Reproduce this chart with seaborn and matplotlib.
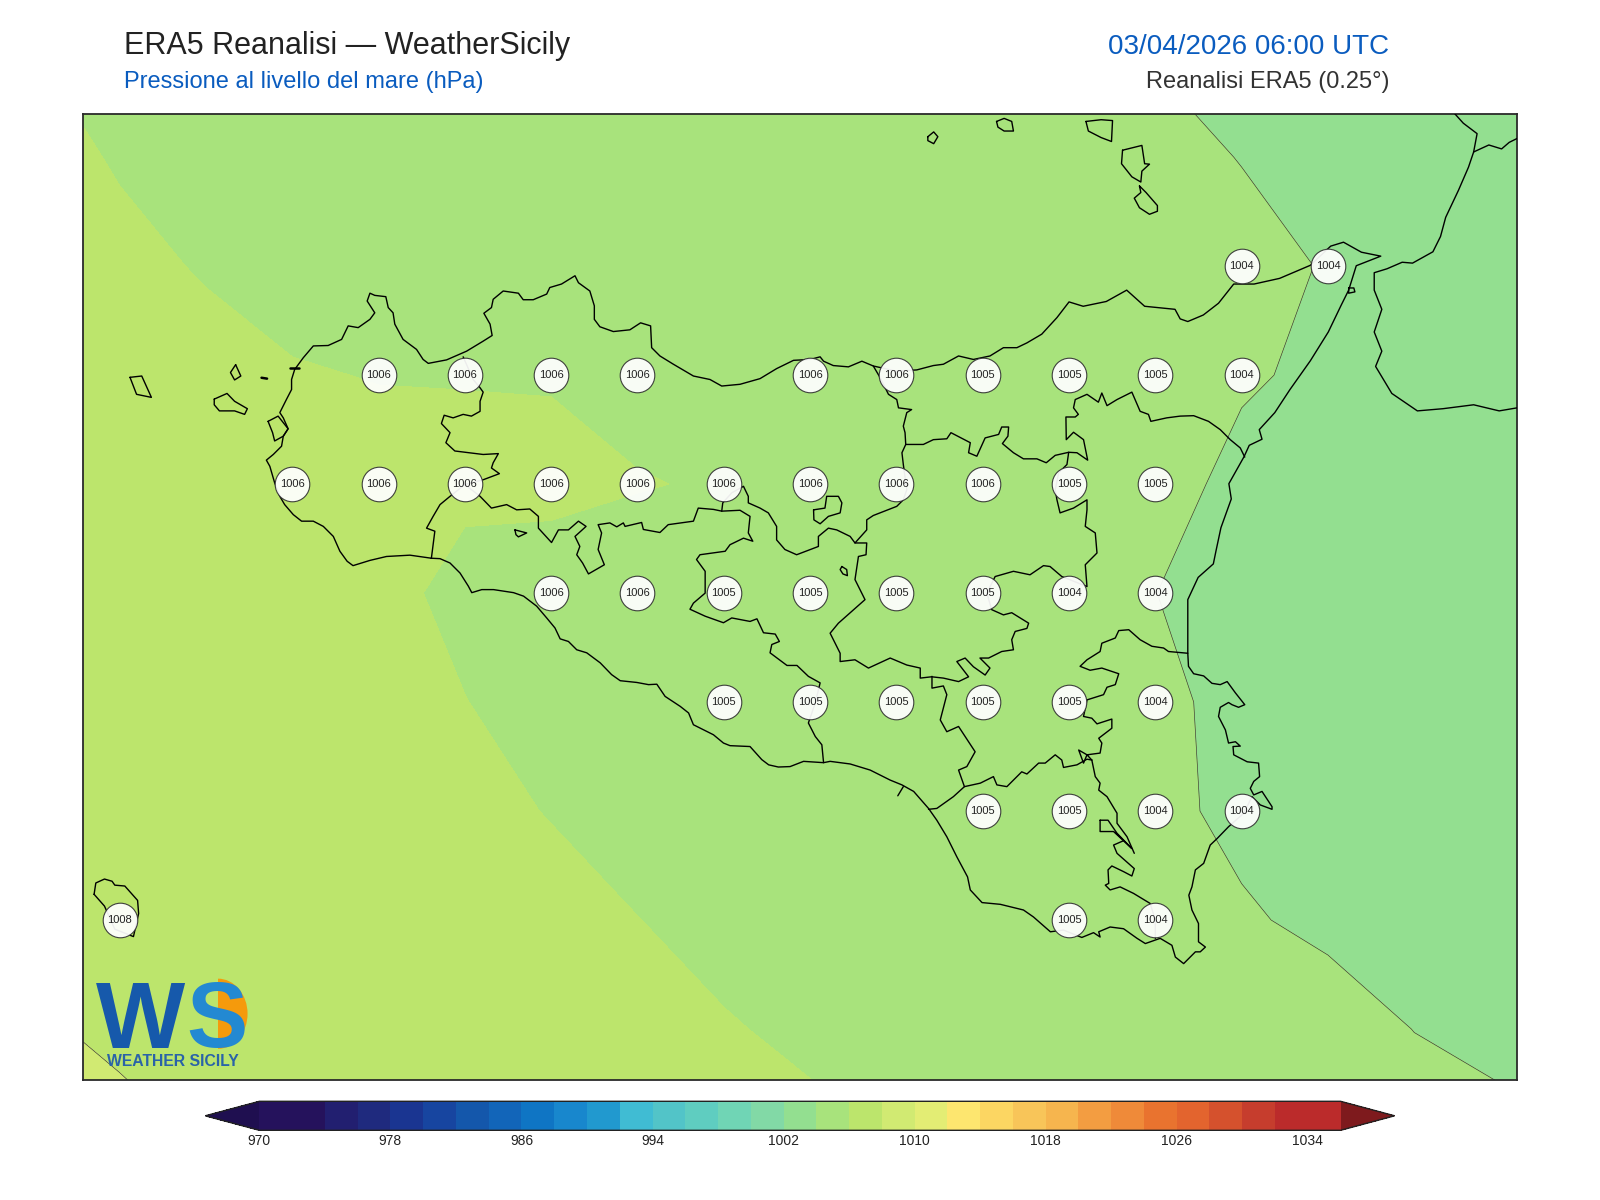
"""ERA5 sea level pressure over Sicily, WeatherSicily style map."""
import matplotlib
matplotlib.use("Agg")
import matplotlib.pyplot as plt
from matplotlib.colors import BoundaryNorm, ListedColormap
from matplotlib.patches import Ellipse, Rectangle
import numpy as np
import seaborn as sns

sns.set_theme(style="white")
plt.rcParams["font.family"] = ["Liberation Sans", "DejaVu Sans"]

# %% pressure field (hPa) on the 0.25 degree grid
grid_lon = np.arange(11.75, 16.26, 0.25)
grid_lat = [38.75, 38.5, 38.25, 38.0, 37.75, 37.5, 37.25, 37.0, 36.75, 36.5, 36.25]
slp_3875 = [1006.0, 1005.7, 1005.4, 1005.2, 1005.1, 1005.0, 1004.9, 1004.8, 1004.7, 1004.6, 1004.5, 1004.3, 1004.1, 1003.95, 1003.7, 1003.5, 1003.3, 1003.1, 1003.0]
slp_3850 = [1006.2, 1005.95, 1005.7, 1005.5, 1005.4, 1005.3, 1005.2, 1005.1, 1005.0, 1004.9, 1004.8, 1004.6, 1004.4, 1004.2, 1003.98, 1003.7, 1003.5, 1003.3, 1003.2]
slp_3825 = [1006.5, 1006.14, 1005.956, 1005.7, 1005.6, 1005.55, 1005.5, 1005.35, 1005.2, 1005.1, 1005.0, 1004.8, 1004.6, 1004.4, 1004.2, 1003.96, 1003.6, 1003.4, 1003.2]
slp_3800 = [1007.0, 1006.6, 1006.18, 1006.06, 1005.97, 1005.96, 1005.95, 1005.75, 1005.7, 1005.6, 1005.5, 1005.4, 1005.2, 1005.0, 1004.3, 1003.5, 1003.3, 1003.2, 1003.1]
slp_3775 = [1007.3, 1007.0, 1006.7, 1006.4, 1006.3, 1006.25, 1006.2, 1006.04, 1005.93, 1005.85, 1005.7, 1005.55, 1005.4, 1005.0, 1003.3, 1003.1, 1003.1, 1003.1, 1003.0]
slp_3750 = [1007.9, 1007.6, 1007.2, 1006.8, 1006.42, 1005.61, 1005.6, 1005.55, 1005.4, 1005.2, 1005.1, 1004.8, 1004.4, 1004.02, 1003.1, 1003.0, 1003.0, 1003.0, 1003.0]
slp_3725 = [1007.95, 1007.8, 1007.5, 1007.2, 1006.7, 1006.03, 1005.4, 1005.3, 1005.2, 1005.1, 1005.0, 1004.9, 1004.7, 1004.4, 1003.5, 1003.1, 1003.1, 1003.1, 1003.0]
slp_3700 = [1007.96, 1007.85, 1007.7, 1007.5, 1007.1, 1006.5, 1005.92, 1005.5, 1005.3, 1005.2, 1005.1, 1005.0, 1004.8, 1004.3, 1003.72, 1003.1, 1003.1, 1003.1, 1003.1]
slp_3675 = [1007.9, 1007.8, 1007.7, 1007.5, 1007.3, 1007.0, 1006.6, 1006.02, 1005.6, 1005.4, 1005.3, 1005.2, 1005.0, 1004.4, 1004.14, 1003.73, 1003.4, 1003.2, 1003.1]
slp_3650 = [1008.04, 1007.94, 1007.85, 1007.7, 1007.5, 1007.2, 1006.9, 1006.5, 1006.1, 1005.75, 1005.5, 1005.35, 1005.2, 1005.0, 1004.8, 1004.57, 1003.98, 1003.6, 1003.4]
slp_3625 = [1008.3, 1008.09, 1007.98, 1007.9, 1007.8, 1007.6, 1007.3, 1007.0, 1006.6, 1006.3, 1005.9, 1005.7, 1005.5, 1005.3, 1005.1, 1004.9, 1004.6, 1004.4, 1004.05]
slp = np.array([slp_3875, slp_3850, slp_3825, slp_3800, slp_3775, slp_3750, slp_3725, slp_3700, slp_3675, slp_3650, slp_3625])

# %% value labels at grid points
station_lon = [15.25, 15.5,
               12.75, 13.0, 13.25, 13.5, 14.0, 14.25, 14.5, 14.75, 15.0, 15.25,
               12.5, 12.75, 13.0, 13.25, 13.5, 13.75, 14.0, 14.25, 14.5, 14.75, 15.0,
               13.25, 13.5, 13.75, 14.0, 14.25, 14.5, 14.75, 15.0,
               13.75, 14.0, 14.25, 14.5, 14.75, 15.0,
               14.5, 14.75, 15.0, 15.25,
               12.0, 14.75, 15.0]
station_lat = [38.25, 38.25,
               38.0, 38.0, 38.0, 38.0, 38.0, 38.0, 38.0, 38.0, 38.0, 38.0,
               37.75, 37.75, 37.75, 37.75, 37.75, 37.75, 37.75, 37.75, 37.75, 37.75, 37.75,
               37.5, 37.5, 37.5, 37.5, 37.5, 37.5, 37.5, 37.5,
               37.25, 37.25, 37.25, 37.25, 37.25, 37.25,
               37.0, 37.0, 37.0, 37.0,
               36.75, 36.75, 36.75]
station_label = [1004, 1004,
                 1006, 1006, 1006, 1006, 1006, 1006, 1005, 1005, 1005, 1004,
                 1006, 1006, 1006, 1006, 1006, 1006, 1006, 1006, 1006, 1005, 1005,
                 1006, 1006, 1005, 1005, 1005, 1005, 1004, 1004,
                 1005, 1005, 1005, 1005, 1005, 1004,
                 1005, 1005, 1004, 1004,
                 1008, 1005, 1004]

# %% colour scale
levels = np.arange(970, 1037, 2)
tick_values = [970, 978, 986, 994, 1002, 1010, 1018, 1026, 1034]
scale_colors = [
    "#25125c", "#25125c", "#221f70", "#1f2a7e", "#1a3591", "#1745a0", "#1457ab", "#1265b9",
    "#0f75c4", "#1887cd", "#2199cf", "#40bcd3", "#52c4c8", "#5fcdc0", "#70d5b5", "#82d9a6",
    "#93df90", "#a8e37c", "#bce56c", "#d1ea72", "#e3ed74", "#fde66f", "#fcd662", "#f8c559",
    "#f6b54e", "#f39d41", "#ef8a39", "#e9732f", "#e3642e", "#d5512d", "#c63d2d", "#bb2b2b",
    "#bb2b2b",
]
under_color = "#1f0f50"
over_color = "#7e1a1d"

# %% base map, lon/lat
sicily_coast = [
    (12.903, 37.580), (12.841, 37.587), (12.773, 37.584), (12.725, 37.575), (12.676, 37.563), (12.659, 37.573),
    (12.638, 37.596), (12.619, 37.630), (12.590, 37.653), (12.561, 37.665), (12.527, 37.665), (12.503, 37.680),
    (12.478, 37.703), (12.464, 37.722), (12.449, 37.753), (12.435, 37.791), (12.425, 37.805), (12.445, 37.818),
    (12.469, 37.837), (12.474, 37.860), (12.488, 37.877), (12.474, 37.902), (12.464, 37.914), (12.483, 37.944),
    (12.498, 37.967), (12.498, 37.990), (12.507, 38.013), (12.532, 38.040), (12.561, 38.067), (12.604, 38.068),
    (12.643, 38.082), (12.662, 38.113), (12.691, 38.109), (12.725, 38.128), (12.739, 38.143), (12.717, 38.170),
    (12.725, 38.188), (12.739, 38.183), (12.771, 38.180), (12.778, 38.155), (12.792, 38.143), (12.797, 38.117),
    (12.821, 38.082), (12.860, 38.059), (12.879, 38.036), (12.894, 38.027), (12.947, 38.035), (13.005, 38.055),
    (13.053, 38.078), (13.079, 38.091), (13.073, 38.117), (13.055, 38.142), (13.077, 38.155), (13.082, 38.174),
    (13.111, 38.193), (13.155, 38.188), (13.169, 38.173), (13.198, 38.173), (13.237, 38.186), (13.246, 38.201),
    (13.280, 38.209), (13.319, 38.228), (13.329, 38.212), (13.362, 38.193), (13.375, 38.159), (13.375, 38.128),
    (13.391, 38.111), (13.430, 38.100), (13.478, 38.104), (13.509, 38.120), (13.538, 38.113), (13.541, 38.063),
    (13.565, 38.044), (13.604, 38.025), (13.662, 37.998), (13.710, 37.990), (13.744, 37.975), (13.797, 37.979),
    (13.855, 37.992), (13.903, 38.015), (13.952, 38.034), (14.000, 38.036), (14.029, 38.042), (14.039, 38.032),
    (14.067, 38.022), (14.111, 38.019), (14.150, 38.032), (14.183, 38.021), (14.251, 38.009), (14.309, 38.012),
    (14.357, 38.022), (14.386, 38.025), (14.430, 38.044), (14.473, 38.036), (14.521, 38.044), (14.560, 38.063),
    (14.599, 38.063), (14.628, 38.074), (14.671, 38.094), (14.715, 38.132), (14.750, 38.168), (14.791, 38.158),
    (14.858, 38.169), (14.917, 38.195), (14.969, 38.158), (15.057, 38.151), (15.072, 38.129), (15.094, 38.123),
    (15.139, 38.138), (15.183, 38.165), (15.227, 38.209), (15.286, 38.209), (15.360, 38.222), (15.449, 38.252),
    (15.508, 38.296), (15.545, 38.305), (15.597, 38.282), (15.653, 38.273), (15.582, 38.251), (15.560, 38.195),
    (15.538, 38.160), (15.501, 38.099), (15.449, 38.033), (15.390, 37.967), (15.346, 37.914), (15.301, 37.875),
    (15.309, 37.853), (15.272, 37.839), (15.257, 37.813), (15.213, 37.751), (15.220, 37.716), (15.190, 37.650),
    (15.176, 37.598), (15.168, 37.567), (15.124, 37.536), (15.094, 37.485), (15.094, 37.362), (15.096, 37.332),
    (15.111, 37.315), (15.140, 37.310), (15.164, 37.293), (15.188, 37.290), (15.208, 37.297), (15.232, 37.271),
    (15.259, 37.244), (15.241, 37.238), (15.222, 37.244), (15.212, 37.249), (15.188, 37.238), (15.183, 37.217),
    (15.203, 37.186), (15.212, 37.156), (15.232, 37.159), (15.246, 37.149), (15.225, 37.148), (15.227, 37.129),
    (15.266, 37.113), (15.299, 37.110), (15.302, 37.079), (15.285, 37.068), (15.275, 37.052), (15.285, 37.037),
    (15.309, 37.045), (15.338, 37.010), (15.338, 37.004), (15.304, 37.014), (15.280, 37.033), (15.256, 36.995),
    (15.212, 36.964), (15.179, 36.937), (15.159, 36.922), (15.140, 36.880), (15.116, 36.865), (15.106, 36.826),
    (15.097, 36.807), (15.106, 36.773), (15.125, 36.742), (15.125, 36.700), (15.145, 36.688), (15.130, 36.677),
    (15.116, 36.677), (15.082, 36.650), (15.058, 36.665), (15.048, 36.692), (15.014, 36.708), (14.971, 36.696),
    (14.947, 36.708), (14.908, 36.730), (14.869, 36.734), (14.836, 36.723), (14.840, 36.711), (14.821, 36.721),
    (14.787, 36.710), (14.734, 36.727), (14.696, 36.723), (14.647, 36.757), (14.618, 36.773), (14.551, 36.786),
    (14.498, 36.790), (14.464, 36.819), (14.456, 36.849), (14.425, 36.895), (14.396, 36.941), (14.367, 36.979),
    (14.343, 37.006), (14.300, 37.045), (14.266, 37.060), (14.232, 37.071), (14.174, 37.094), (14.116, 37.108),
    (14.058, 37.114), (14.039, 37.111), (13.981, 37.114), (13.942, 37.102), (13.908, 37.101), (13.880, 37.106),
    (13.860, 37.118), (13.826, 37.148), (13.768, 37.150), (13.749, 37.156), (13.720, 37.175), (13.662, 37.198),
    (13.648, 37.225), (13.624, 37.240), (13.580, 37.263), (13.556, 37.291), (13.532, 37.290), (13.498, 37.295),
    (13.450, 37.299), (13.425, 37.313), (13.392, 37.340), (13.353, 37.363), (13.324, 37.370), (13.300, 37.389),
    (13.276, 37.395), (13.261, 37.420), (13.237, 37.443), (13.208, 37.470), (13.170, 37.493), (13.141, 37.501),
    (13.083, 37.508), (13.049, 37.508), (13.020, 37.501), (13.010, 37.516), (12.986, 37.546), (12.957, 37.569),
    (12.928, 37.579), (12.903, 37.580),
]
calabria_coast = [
    (15.867, 38.600), (15.892, 38.578), (15.932, 38.554), (15.922, 38.512), (15.907, 38.477), (15.878, 38.424),
    (15.841, 38.362), (15.826, 38.318), (15.804, 38.283), (15.745, 38.257), (15.715, 38.259), (15.671, 38.244),
    (15.634, 38.235), (15.634, 38.195), (15.656, 38.151), (15.634, 38.099), (15.656, 38.055), (15.638, 38.020),
    (15.685, 37.958), (15.759, 37.918), (15.833, 37.923), (15.922, 37.932), (15.996, 37.918), (16.048, 37.925),
]
calabria_border = [(15.922, 38.512), (15.966, 38.528), (16.003, 38.519), (16.025, 38.534), (16.048, 38.543)]

border_tp_pa = [
    (12.995, 38.042), (13.024, 37.990), (13.044, 37.971), (13.053, 37.961), (13.044, 37.940), (13.044, 37.917),
    (13.019, 37.906), (12.995, 37.910), (12.966, 37.902), (12.940, 37.908), (12.932, 37.889), (12.957, 37.868),
    (12.945, 37.845), (12.971, 37.826), (13.053, 37.818), (13.097, 37.820), (13.082, 37.799), (13.077, 37.787),
    (13.100, 37.774), (13.053, 37.760), (13.000, 37.749),
]
border_tp_ag = [
    (13.000, 37.749), (12.957, 37.722), (12.928, 37.703), (12.908, 37.676), (12.889, 37.649), (12.913, 37.642),
    (12.903, 37.580),
]
border_pa_ag = [
    (13.000, 37.749), (13.044, 37.722), (13.077, 37.695), (13.121, 37.703), (13.150, 37.691), (13.188, 37.693),
    (13.213, 37.676), (13.213, 37.649), (13.251, 37.616), (13.271, 37.645), (13.300, 37.645), (13.329, 37.665),
    (13.351, 37.653), (13.319, 37.630), (13.333, 37.607), (13.324, 37.588), (13.341, 37.569), (13.358, 37.544),
    (13.404, 37.565), (13.386, 37.600), (13.396, 37.638), (13.386, 37.657), (13.420, 37.661), (13.440, 37.652),
    (13.459, 37.661), (13.464, 37.653), (13.512, 37.662), (13.517, 37.646), (13.565, 37.639), (13.589, 37.657),
    (13.662, 37.665), (13.676, 37.695), (13.720, 37.692), (13.744, 37.688), (13.797, 37.690), (13.826, 37.676),
    (13.821, 37.638), (13.834, 37.619), (13.807, 37.626), (13.768, 37.611), (13.754, 37.596), (13.681, 37.588),
    (13.671, 37.577), (13.696, 37.550), (13.696, 37.500), (13.662, 37.477), (13.652, 37.463), (13.696, 37.447),
    (13.749, 37.432), (13.773, 37.443), (13.826, 37.435), (13.846, 37.441), (13.865, 37.409), (13.899, 37.406),
    (13.911, 37.389), (13.889, 37.382), (13.884, 37.363), (13.933, 37.334), (13.962, 37.334), (13.995, 37.309),
    (14.029, 37.294), (14.015, 37.248), (13.995, 37.202), (14.015, 37.171), (14.034, 37.152), (14.039, 37.111),
]
border_pa_cl = [
    (13.744, 37.688), (13.747, 37.707), (13.773, 37.730), (13.807, 37.745), (13.821, 37.722), (13.821, 37.707),
    (13.855, 37.695), (13.879, 37.684), (13.903, 37.653), (13.903, 37.622), (13.927, 37.600), (13.961, 37.588),
    (14.024, 37.607), (14.024, 37.630), (14.053, 37.649), (14.077, 37.645), (14.116, 37.630), (14.130, 37.615),
    (14.164, 37.645), (14.164, 37.668), (14.183, 37.678), (14.251, 37.699), (14.270, 37.714), (14.280, 37.737),
    (14.270, 37.795), (14.266, 37.822), (14.277, 37.841), (14.275, 37.868), (14.270, 37.883), (14.280, 37.914),
    (14.294, 37.921), (14.256, 37.925), (14.251, 37.944), (14.227, 37.956), (14.203, 37.994), (14.183, 38.021),
]
border_me = [
    (14.277, 37.841), (14.328, 37.841), (14.357, 37.852), (14.396, 37.854), (14.408, 37.868), (14.464, 37.845),
    (14.459, 37.822), (14.483, 37.814), (14.507, 37.856), (14.546, 37.864), (14.555, 37.881), (14.575, 37.881),
    (14.573, 37.860), (14.557, 37.843), (14.589, 37.822), (14.618, 37.808), (14.657, 37.808), (14.684, 37.799),
    (14.710, 37.816), (14.749, 37.823), (14.773, 37.822), (14.804, 37.805), (14.792, 37.852), (14.763, 37.869),
    (14.742, 37.852), (14.741, 37.904), (14.768, 37.904), (14.777, 37.910), (14.763, 37.925), (14.768, 37.944),
    (14.802, 37.956), (14.835, 37.938), (14.845, 37.959), (14.860, 37.930), (14.889, 37.944), (14.932, 37.961),
    (14.956, 37.917), (14.980, 37.910), (14.987, 37.894), (15.033, 37.902), (15.072, 37.906), (15.111, 37.907),
    (15.154, 37.894), (15.188, 37.875), (15.217, 37.852), (15.246, 37.833), (15.259, 37.812),
]
border_en = [
    (14.749, 37.823), (14.744, 37.795), (14.720, 37.776), (14.710, 37.737), (14.715, 37.714), (14.724, 37.684),
    (14.763, 37.695), (14.802, 37.714), (14.802, 37.691), (14.797, 37.653), (14.826, 37.638), (14.831, 37.592),
    (14.797, 37.565), (14.802, 37.515), (14.729, 37.538), (14.695, 37.561), (14.676, 37.563), (14.637, 37.542),
    (14.589, 37.550), (14.536, 37.538), (14.512, 37.500), (14.526, 37.462), (14.560, 37.450), (14.584, 37.455),
    (14.633, 37.431), (14.628, 37.419), (14.594, 37.412), (14.584, 37.393), (14.589, 37.370), (14.555, 37.366),
    (14.517, 37.351), (14.492, 37.351), (14.521, 37.328), (14.507, 37.312), (14.473, 37.331), (14.449, 37.351),
    (14.425, 37.343), (14.459, 37.308), (14.430, 37.297), (14.386, 37.305), (14.352, 37.308), (14.319, 37.305),
    (14.319, 37.328), (14.280, 37.335), (14.232, 37.351), (14.169, 37.328), (14.130, 37.347), (14.087, 37.343),
    (14.087, 37.362), (14.058, 37.408), (14.082, 37.431), (14.159, 37.485), (14.130, 37.531), (14.140, 37.584),
    (14.162, 37.588), (14.164, 37.615), (14.130, 37.615),
]
border_cl_ct = [
    (14.353, 37.309), (14.353, 37.282), (14.386, 37.287), (14.396, 37.267), (14.377, 37.209), (14.396, 37.182),
    (14.430, 37.194), (14.478, 37.136), (14.454, 37.102), (14.430, 37.094), (14.447, 37.056), (14.415, 37.033),
    (14.367, 37.006), (14.343, 37.004),
]
border_ct_rg = [
    (14.447, 37.056), (14.493, 37.064), (14.531, 37.079), (14.541, 37.060), (14.570, 37.056), (14.613, 37.090),
    (14.628, 37.085), (14.662, 37.110), (14.681, 37.110), (14.710, 37.129), (14.729, 37.117), (14.734, 37.100),
    (14.773, 37.106), (14.802, 37.119), (14.816, 37.117),
]
border_rg_sr_north = [
    (14.816, 37.117), (14.826, 37.079), (14.840, 37.064), (14.836, 37.048), (14.860, 37.033), (14.889, 36.995),
    (14.889, 36.972), (14.918, 36.941), (14.939, 36.903),
]
border_rg_sr_south = [
    (14.908, 36.932), (14.879, 36.922), (14.889, 36.903), (14.939, 36.868), (14.932, 36.851), (14.908, 36.861),
    (14.874, 36.874), (14.863, 36.865), (14.865, 36.834), (14.855, 36.830), (14.869, 36.819), (14.898, 36.826),
    (14.937, 36.811), (14.985, 36.788), (15.000, 36.750), (15.000, 36.708),
]
border_ct_sr = [
    (14.816, 37.117), (14.802, 37.129), (14.792, 37.110), (14.778, 37.140), (14.802, 37.129), (14.840, 37.133),
    (14.845, 37.156), (14.836, 37.167), (14.874, 37.190), (14.874, 37.211), (14.831, 37.200), (14.816, 37.213),
    (14.792, 37.217), (14.802, 37.255), (14.850, 37.267), (14.860, 37.284), (14.884, 37.290), (14.894, 37.315),
    (14.845, 37.328), (14.811, 37.323), (14.782, 37.332), (14.802, 37.347), (14.840, 37.366), (14.845, 37.385),
    (14.884, 37.397), (14.894, 37.414), (14.923, 37.416), (14.956, 37.393), (14.990, 37.378), (15.024, 37.374),
    (15.038, 37.366), (15.094, 37.362),
]
coast_tick = [(14.270, 37.056), (14.254, 37.035)]

closed_shapes = {
    "stagnone": [(12.430, 37.894), (12.459, 37.906), (12.488, 37.877), (12.474, 37.860), (12.449, 37.849), (12.443, 37.868)],
    "lake_ragusa": [(14.840, 36.979), (14.863, 36.979), (14.889, 36.949), (14.932, 36.914), (14.879, 36.953), (14.840, 36.953)],
    "lake_pozzillo": [(14.092, 37.561), (14.106, 37.554), (14.108, 37.540), (14.095, 37.544), (14.087, 37.554)],
    "exclave_madonie": [(14.010, 37.691), (14.043, 37.695), (14.048, 37.722), (14.082, 37.722), (14.092, 37.707),
                        (14.087, 37.684), (14.053, 37.676), (14.029, 37.659), (14.011, 37.668)],
    "exclave_sambuca": [(13.145, 37.645), (13.179, 37.638), (13.155, 37.629), (13.148, 37.634)],
    "capo_peloro_pond": [(15.560, 38.200), (15.575, 38.200), (15.578, 38.191), (15.560, 38.188)],
    "marettimo": [(12.030, 37.995), (12.064, 37.998), (12.092, 37.949), (12.049, 37.956)],
    "favignana": [(12.274, 37.945), (12.311, 37.958), (12.333, 37.940), (12.370, 37.923), (12.362, 37.910),
                  (12.333, 37.918), (12.289, 37.918), (12.274, 37.932)],
    "levanzo": [(12.336, 38.024), (12.351, 37.998), (12.333, 37.989), (12.321, 38.006)],
    "pantelleria": [(11.926, 36.809), (11.931, 36.835), (11.956, 36.844), (11.978, 36.839), (11.986, 36.830),
                    (12.015, 36.828), (12.052, 36.795), (12.055, 36.765), (12.040, 36.712), (11.986, 36.729),
                    (11.956, 36.782)],
    "alicudi": [(14.341, 38.547), (14.358, 38.558), (14.370, 38.547), (14.358, 38.531), (14.341, 38.538)],
    "filicudi": [(14.540, 38.582), (14.562, 38.589), (14.584, 38.582), (14.589, 38.560), (14.562, 38.560), (14.544, 38.569)],
    "salina": [(14.799, 38.582), (14.843, 38.586), (14.876, 38.584), (14.873, 38.536), (14.843, 38.545), (14.806, 38.560)],
    "lipari": [(14.905, 38.516), (14.961, 38.527), (14.969, 38.485), (14.983, 38.484), (14.961, 38.468), (14.958, 38.443),
               (14.932, 38.455), (14.902, 38.485)],
    "vulcano": [(14.954, 38.434), (14.973, 38.419), (15.006, 38.389), (15.006, 38.376), (14.983, 38.369), (14.954, 38.384),
                (14.939, 38.406), (14.958, 38.419)],
}
islets = [
    [(12.493, 38.017), (12.520, 38.017)],
    [(12.411, 37.994), (12.427, 37.992)],
]

open_lines = [
    sicily_coast, calabria_coast, calabria_border, border_tp_pa, border_tp_ag, border_pa_ag, border_pa_cl,
    border_me, border_en, border_cl_ct, border_ct_rg, border_rg_sr_north, border_rg_sr_south, border_ct_sr,
    coast_tick,
]


def draw_line(ax, points, width=1.0):
    lons, lats = zip(*points)
    sns.lineplot(x=list(lons), y=list(lats), sort=False, estimator=None, color="black",
                 linewidth=width, ax=ax, zorder=3)


# %% figure
W, H = 1600, 1200
fig = plt.figure(figsize=(16, 12), dpi=100, facecolor="white")
ax = fig.add_axes([82.7 / W, 1 - 1080 / H, (1516.8 - 82.7) / W, (1080 - 113.6) / H])

cmap = ListedColormap(scale_colors)
cmap.set_under(under_color)
cmap.set_over(over_color)
norm = BoundaryNorm(levels, ncolors=len(scale_colors))

filled = ax.contourf(grid_lon, grid_lat, slp, levels=levels, cmap=cmap, norm=norm, extend="both", zorder=1)
ax.contour(grid_lon, grid_lat, slp, levels=np.arange(968, 1040, 4), colors="#333333", linewidths=0.45, zorder=2)

for line in open_lines:
    draw_line(ax, line)
for shape in closed_shapes.values():
    draw_line(ax, shape + shape[:1])
for line in islets:
    draw_line(ax, line, width=1.8)

sns.scatterplot(x=station_lon, y=station_lat, s=620, color="white", edgecolor="#333333", linewidth=0.8,
                alpha=0.93, ax=ax, zorder=4, legend=False)
for lon, lat, value in zip(station_lon, station_lat, station_label):
    ax.text(lon, lat + 0.001, str(value), fontsize=8, color="#222222", ha="center", va="center", zorder=5)

ax.set_xlim(11.893, 16.047)
ax.set_ylim(36.383, 38.600)
ax.set_xticks([])
ax.set_yticks([])
ax.set_xlabel("")
ax.set_ylabel("")
for spine in ax.spines.values():
    spine.set_visible(True)
    spine.set_color("#2a2a2a")
    spine.set_linewidth(1.3)

# logo, lower left
sun = Ellipse((12.285, 36.535), 0.171, 0.161, facecolor="#f59a0c", edgecolor="none", zorder=6)
ax.add_patch(sun)
sun.set_clip_path(Rectangle((12.285, 36.4), 0.3, 0.3, transform=ax.transData))
fig.text(96 / W, 1 - 1048 / H, "W", fontsize=68, fontweight="bold", color="#1659ab", va="baseline", zorder=7)
fig.text(186 / W, 1 - 1047 / H, "S", fontsize=66, fontweight="bold", color="#2389d2", va="baseline", zorder=7)
fig.text(107 / W, 1 - 1066 / H, "WEATHER SICILY", fontsize=11.3, fontweight="bold", color="#2a63a8",
         va="baseline", zorder=7)

# colour bar, the axes spans the two end triangles too
cax = fig.add_axes([205.3 / W, 1 - 1130.3 / H, (1394.6 - 205.3) / W, (1130.3 - 1101.3) / H])
cbar = fig.colorbar(filled, cax=cax, orientation="horizontal", ticks=tick_values, extend="both", drawedges=False)
cbar.ax.minorticks_off()
cbar.ax.tick_params(length=0, labelsize=10, pad=3, labelcolor="#222222")
cbar.ax.set_xticklabels([str(t) for t in tick_values])
cbar.outline.set_edgecolor("#222222")
cbar.outline.set_linewidth(1.0)

# titles
fig.text(124 / W, 1 - 54 / H, "ERA5 Reanalisi — WeatherSicily", fontsize=22, color="#222222", va="baseline")
fig.text(124 / W, 1 - 88 / H, "Pressione al livello del mare (hPa)", fontsize=17, color="#0a5cbf", va="baseline")
fig.text(1389 / W, 1 - 53.5 / H, "03/04/2026 06:00 UTC", fontsize=20, color="#0a5cbf", ha="right", va="baseline")
fig.text(1389 / W, 1 - 88 / H, "Reanalisi ERA5 (0.25°)", fontsize=17, color="#333333", ha="right", va="baseline")

fig.savefig("out.png", dpi=100, facecolor="white")
